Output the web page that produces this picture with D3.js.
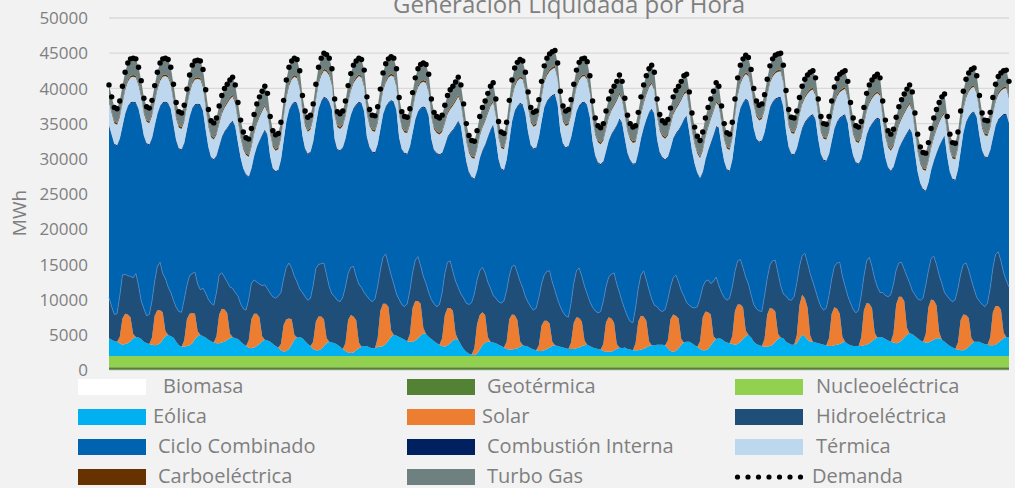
<!DOCTYPE html>
<html>
<head>
<meta charset="utf-8">
<script src="https://cdn.jsdelivr.net/npm/d3@7"></script>
<style>
html, body { margin: 0; padding: 0; background: #f2f2f2; }
svg { display: block; }
</style>
</head>
<body>
<svg id="vis"></svg>
<script>
// generacion liquidada, cada 2 horas, 28 dias (una fila por dia)
var horas = d3.range(0, 672, 2);

var demanda = [
 [40500,38800,37300,37100,38200,40300,42300,43600,44200,44300,44200,43000],
 [41100,38600,37400,37200,38300,40400,42300,43600,44200,44300,44100,43000],
 [40600,38000,36700,36500,37600,39900,41900,43300,43900,44000,43900,42700],
 [39800,37000,35400,35100,35800,37500,39000,40000,40600,41200,41600,40500],
 [38000,35500,33800,33000,32800,34300,36300,37800,38800,39600,40300,39300],
 [36000,34000,33400,33600,35200,38300,41200,43000,43900,44300,44100,42500],
 [39000,36800,35900,36200,37800,40600,43000,44300,45000,44800,44300,42800],
 [38500,36700,36400,36800,38200,40400,42100,43300,43900,44300,44100,42600],
 [38800,37000,36200,36100,37400,39900,42200,43500,44200,44500,44300,42800],
 [38700,36700,36000,35900,37100,39400,41500,42800,43400,43600,43400,42000],
 [38500,36600,36000,35800,36200,37600,39000,39800,40300,40900,41600,40500],
 [37800,35000,33300,32600,32500,34000,36000,37300,38200,39300,40300,40800],
 [38500,35300,33800,33600,35200,38300,41200,42900,43700,44100,43900,42300],
 [39500,37300,36600,36800,38400,41000,43200,44300,44900,45200,45400,43600],
 [39600,37500,36800,37000,38400,40600,42600,43700,44200,44300,43800,41800],
 [38200,35800,34700,34400,35000,36800,38500,39600,40300,41000,41900,41000],
 [38600,36200,35000,34500,34700,36600,38800,40500,41800,42800,43300,42300],
 [38500,36300,35400,35100,35600,37200,38800,39700,40300,41000,41800,42000],
 [39500,36500,34500,33200,32600,33800,35800,37300,38500,39600,40800,40300],
 [37500,35000,33700,33500,35200,38500,41500,43300,44200,44700,44400,42700],
 [40000,38200,37600,37800,39100,41300,43200,44200,44700,44900,45000,43300],
 [39700,37000,35900,35800,36800,38700,40300,41300,41900,42300,42500,41500],
 [38500,36000,35000,34900,36000,38200,40200,41400,42000,42300,42500,41000],
 [38000,35800,34700,34500,35300,37300,39300,40500,41200,41700,42000,41500],
 [38200,35500,34000,33500,34200,35900,37400,38400,39200,39900,40500,39500],
 [36500,33500,31700,30900,30800,32300,34300,35800,37000,38000,38800,39200],
 [36000,33500,32300,32200,33800,36800,39600,41300,42200,42700,42900,41800],
 [39000,36500,35500,35400,36600,38700,40600,41700,42200,42500,42600,41000]
];

var biomasa = [
 [20,20,20,20,20,20,20,20,20,20,20,20],[20,20,20,20,20,20,20,20,20,20,20,20],
 [20,20,20,20,20,20,20,20,20,20,20,20],[20,20,20,20,20,20,20,20,20,20,20,20],
 [20,20,20,20,20,20,20,20,20,20,20,20],[20,20,20,20,20,20,20,20,20,20,20,20],
 [20,20,20,20,20,20,20,20,20,20,20,20],[20,20,20,20,20,20,20,20,20,20,20,20],
 [20,20,20,20,20,20,20,20,20,20,20,20],[20,20,20,20,20,20,20,20,20,20,20,20],
 [20,20,20,20,20,20,20,20,20,20,20,20],[20,20,20,20,20,20,20,20,20,20,20,20],
 [20,20,20,20,20,20,20,20,20,20,20,20],[20,20,20,20,20,20,20,20,20,20,20,20],
 [20,20,20,20,20,20,20,20,20,20,20,20],[20,20,20,20,20,20,20,20,20,20,20,20],
 [20,20,20,20,20,20,20,20,20,20,20,20],[20,20,20,20,20,20,20,20,20,20,20,20],
 [20,20,20,20,20,20,20,20,20,20,20,20],[20,20,20,20,20,20,20,20,20,20,20,20],
 [20,20,20,20,20,20,20,20,20,20,20,20],[20,20,20,20,20,20,20,20,20,20,20,20],
 [20,20,20,20,20,20,20,20,20,20,20,20],[20,20,20,20,20,20,20,20,20,20,20,20],
 [20,20,20,20,20,20,20,20,20,20,20,20],[20,20,20,20,20,20,20,20,20,20,20,20],
 [20,20,20,20,20,20,20,20,20,20,20,20],[20,20,20,20,20,20,20,20,20,20,20,20]
];

var geotermica = [
 [380,380,380,380,380,380,380,380,380,380,380,380],[380,380,380,380,380,380,380,380,380,380,380,380],
 [380,380,380,380,380,380,380,380,380,380,380,380],[380,380,380,380,380,380,380,380,380,380,380,380],
 [380,380,380,380,380,380,380,380,380,380,380,380],[380,380,380,380,380,380,380,380,380,380,380,380],
 [380,380,380,380,380,380,380,380,380,380,380,380],[380,380,380,380,380,380,380,380,380,380,380,380],
 [380,380,380,380,380,380,380,380,380,380,380,380],[380,380,380,380,380,380,380,380,380,380,380,380],
 [380,380,380,380,380,380,380,380,380,380,380,380],[380,380,380,380,380,380,380,380,380,380,380,380],
 [380,380,380,380,380,380,380,380,380,380,380,380],[380,380,380,380,380,380,380,380,380,380,380,380],
 [380,380,380,380,380,380,380,380,380,380,380,380],[380,380,380,380,380,380,380,380,380,380,380,380],
 [380,380,380,380,380,380,380,380,380,380,380,380],[380,380,380,380,380,380,380,380,380,380,380,380],
 [380,380,380,380,380,380,380,380,380,380,380,380],[380,380,380,380,380,380,380,380,380,380,380,380],
 [380,380,380,380,380,380,380,380,380,380,380,380],[380,380,380,380,380,380,380,380,380,380,380,380],
 [380,380,380,380,380,380,380,380,380,380,380,380],[380,380,380,380,380,380,380,380,380,380,380,380],
 [380,380,380,380,380,380,380,380,380,380,380,380],[380,380,380,380,380,380,380,380,380,380,380,380],
 [380,380,380,380,380,380,380,380,380,380,380,380],[380,380,380,380,380,380,380,380,380,380,380,380]
];

var nucleo = [
 [1600,1600,1600,1600,1600,1600,1600,1600,1600,1600,1600,1600],[1600,1600,1600,1600,1600,1600,1600,1600,1600,1600,1600,1600],
 [1600,1600,1600,1600,1600,1600,1600,1600,1600,1600,1600,1600],[1600,1600,1600,1600,1600,1600,1600,1600,1600,1600,1600,1600],
 [1600,1600,1600,1600,1600,1600,1600,1600,1600,1600,1600,1600],[1600,1600,1600,1600,1600,1600,1600,1600,1600,1600,1600,1600],
 [1600,1600,1600,1600,1600,1600,1600,1600,1600,1600,1600,1600],[1600,1600,1600,1600,1600,1600,1600,1600,1600,1600,1600,1600],
 [1600,1600,1600,1600,1600,1600,1600,1600,1600,1600,1600,1600],[1600,1600,1600,1600,1600,1600,1600,1600,1600,1600,1600,1600],
 [1600,1600,1600,1600,1600,1600,1600,1600,1600,1600,1600,1600],[1600,1600,1600,1600,1600,1600,1600,1600,1600,1600,1600,1600],
 [1600,1600,1600,1600,1600,1600,1600,1600,1600,1600,1600,1600],[1600,1600,1600,1600,1600,1600,1600,1600,1600,1600,1600,1600],
 [1600,1600,1600,1600,1600,1600,1600,1600,1600,1600,1600,1600],[1600,1600,1600,1600,1600,1600,1600,1600,1600,1600,1600,1600],
 [1600,1600,1600,1600,1600,1600,1600,1600,1600,1600,1600,1600],[1600,1600,1600,1600,1600,1600,1600,1600,1600,1600,1600,1600],
 [1600,1600,1600,1600,1600,1600,1600,1600,1600,1600,1600,1600],[1600,1600,1600,1600,1600,1600,1600,1600,1600,1600,1600,1600],
 [1600,1600,1600,1600,1600,1600,1600,1600,1600,1600,1600,1600],[1600,1600,1600,1600,1600,1600,1600,1600,1600,1600,1600,1600],
 [1600,1600,1600,1600,1600,1600,1600,1600,1600,1600,1600,1600],[1600,1600,1600,1600,1600,1600,1600,1600,1600,1600,1600,1600],
 [1600,1600,1600,1600,1600,1600,1600,1600,1600,1600,1600,1600],[1600,1600,1600,1600,1600,1600,1600,1600,1600,1600,1600,1600],
 [1600,1600,1600,1600,1600,1600,1600,1600,1600,1600,1600,1600],[1600,1600,1600,1600,1600,1600,1600,1600,1600,1600,1600,1600]
];

var eolica = [
 [2500,2300,2100,2000,1800,1600,1700,1800,2100,2500,2700,2600],
 [2400,2000,1800,1700,1600,1500,1600,1800,2300,2800,3000,2800],
 [2600,2000,1500,1300,1300,1400,1500,1800,2400,2800,3000,2800],
 [2600,2300,2100,1900,1800,1800,1900,2000,2300,2500,2700,2500],
 [2400,2000,1700,1400,1200,1100,1200,1400,1700,2100,2300,2200],
 [2000,1700,1400,1200,800,600,700,1000,1600,2300,2600,2700],
 [2500,2100,1700,1400,1000,800,800,1000,1400,1800,2000,1900],
 [1800,1600,1300,1000,700,500,400,500,800,1100,1300,1400],
 [1400,1200,1100,1100,1300,1300,1400,1700,2200,2700,3000,2900],
 [2700,2500,2300,2100,2000,2000,2200,2500,2900,3200,3100,2700],
 [2400,2100,1800,1600,1400,1300,1500,1800,2200,2400,2300,1600],
 [1000,600,300,200,100,300,900,1500,1900,2000,2000,1900],
 [1800,1600,1400,1200,1000,900,900,1000,1100,1300,1500,1400],
 [1300,1100,900,800,700,700,800,1000,1200,1400,1500,1400],
 [1300,1200,1100,1000,1000,1000,1100,1200,1400,1500,1600,1400],
 [1200,1100,1000,900,700,600,600,600,800,1000,1200,1100],
 [1200,1000,900,800,800,800,900,1000,1200,1400,1500,1500],
 [1600,1600,1600,1500,1100,700,600,700,1100,1600,1900,2000],
 [2000,1800,1500,1300,1000,800,800,1000,1500,2000,2400,2500],
 [2400,2100,1900,1800,1700,1600,1700,2000,2400,2800,3000,2600],
 [2000,1700,1500,1400,1300,1300,1400,1600,2000,2400,2600,2500],
 [2000,1800,1600,1600,1800,2400,3000,2800,2300,2000,2000,1900],
 [1800,1700,1600,1500,1400,1400,1500,1600,1700,1900,2000,1700],
 [1500,1400,1400,1400,1400,1500,1600,1800,2100,2400,2600,2700],
 [2600,2400,2200,2000,1900,1800,1900,2200,2600,3000,3200,3100],
 [2800,2500,2200,2000,1900,1900,2100,2300,2500,2500,2300,2000],
 [1700,1400,1200,1000,900,800,800,1000,1300,1700,2000,2000],
 [2000,1800,1700,1600,1500,1500,1600,1900,2200,2500,2700,2700]
];

var solar = [
 [0,0,0,0,900,3700,4300,4100,3400,600,0,0],
 [0,0,0,0,1000,4200,4900,4700,3900,700,0,0],
 [0,0,0,0,900,3800,4500,4300,3600,700,0,0],
 [0,0,0,0,1000,4100,4800,4600,3800,700,0,0],
 [0,0,0,0,1000,4100,4800,4600,3800,700,0,0],
 [0,0,0,0,900,3800,4500,4300,3600,700,0,0],
 [0,0,0,0,1000,4100,4800,4600,3800,700,0,0],
 [0,0,0,0,1100,4600,5400,5100,4300,800,0,0],
 [0,0,0,0,1200,5100,6000,5700,4800,900,0,0],
 [0,0,0,0,1100,4800,5600,5300,4500,800,0,0],
 [0,0,0,0,1100,4500,5300,5000,4200,800,0,0],
 [0,0,0,0,1000,4200,4900,4700,3900,700,0,0],
 [0,0,0,0,1000,4300,5000,4800,4000,800,0,0],
 [0,0,0,0,800,3600,4200,4000,3400,600,0,0],
 [0,0,0,0,900,3700,4400,4200,3500,700,0,0],
 [0,0,0,0,1000,4200,4900,4700,3900,700,0,0],
 [0,0,0,0,1000,4100,4800,4600,3800,700,0,0],
 [0,0,0,0,1100,4500,5300,5000,4200,800,0,0],
 [0,0,0,0,1100,4700,5500,5200,4400,800,0,0],
 [0,0,0,0,1100,4800,5600,5300,4500,800,0,0],
 [0,0,0,0,1100,4600,5400,5100,4300,800,0,0],
 [0,0,0,0,1100,4800,5700,5400,4600,900,0,0],
 [0,0,0,0,1100,4600,5400,5100,4300,800,0,0],
 [0,0,0,0,1200,5000,5900,5600,4700,900,0,0],
 [0,0,0,0,1300,5500,6500,6200,5200,1000,0,0],
 [0,0,0,0,1200,5000,5900,5600,4700,900,0,0],
 [0,0,0,0,1000,4300,5100,4800,4100,800,0,0],
 [0,0,0,0,1100,4700,5500,5200,4400,800,0,0]
];

var hidro = [
 [5800,4700,3800,4000,5800,6200,5600,5500,5800,8000,9000,7400],
 [5400,4700,3900,4200,5200,4900,6200,6800,5500,7500,6800,6200],
 [5300,4900,4800,4900,5800,4800,5400,5600,5900,6700,6400,6800],
 [6300,5700,5400,5300,6200,5600,5100,4600,4400,6600,6900,6500],
 [6100,5400,5000,5100,5800,5100,4800,4500,4700,7200,7800,7300],
 [6900,6700,6800,7300,7300,6600,7400,7900,7300,8300,7900,6800],
 [6500,6300,6200,6800,8000,7500,7400,7500,8000,9000,7800,6900],
 [6600,6300,6400,7300,8000,6600,6800,7100,6200,8300,8400,7600],
 [7100,6800,6600,7000,7400,5800,6600,7100,6000,7900,7200,5900],
 [5300,4800,4700,5300,6200,5000,5800,6300,5400,7300,7200,6300],
 [5600,5300,5200,5700,6500,5900,6500,6700,5600,7400,7400,7200],
 [7200,6900,7000,7400,7700,6300,6300,6400,6000,7800,7600,6700],
 [6400,6100,6100,6600,7300,6200,6800,7100,6700,8500,8200,7000],
 [6300,5900,5600,6000,6800,5900,6500,7000,7500,8500,7800,6600],
 [5700,5000,4600,4500,5600,5600,6600,7100,6400,7700,7200,6300],
 [5700,5300,5100,5400,6100,5000,5700,6300,7100,8500,7800,6600],
 [5400,4600,4000,3900,5000,4700,5800,6500,5800,7300,6600,5700],
 [5400,4900,4700,5100,5800,4600,5200,5800,5200,6900,6600,5600],
 [5200,5100,5300,5700,6100,4300,4300,4600,4400,7800,8800,7500],
 [6600,6200,6000,6400,7000,5600,6200,6400,5600,7600,7200,6100],
 [5300,5000,4900,4900,6100,5100,6100,6800,7300,8600,7400,6300],
 [6500,6200,6300,6800,7400,5500,5500,6400,6300,8800,8500,7400],
 [6200,5300,4900,5300,6100,4900,5800,6500,7300,8600,7900,6800],
 [6000,5200,4700,5100,6000,4800,6000,6600,5900,7700,7200,6300],
 [6400,6200,6200,6700,7000,4900,4800,4900,4500,7300,7200,6200],
 [5900,5600,5700,6200,6900,5200,5800,6300,5800,8100,8000,7000],
 [6800,6600,6500,7000,7700,6500,7100,7400,6800,8300,7500,6300],
 [5800,5500,5300,5900,7000,6300,7300,7700,6900,8500,8000,7100]
];

var ciclo = [
 [24400,24350,24100,23800,22250,21000,22700,24000,24600,24900,24200,25000],
 [25500,24450,24400,24000,23050,22000,21600,22100,24200,25000,26000,26000],
 [24900,23650,23100,23000,22150,22100,22500,23400,23700,25500,26200,25100],
 [23100,21550,20600,20600,19350,18200,19200,20600,21800,23100,23700,23500],
 [21700,20650,19800,19200,17350,16200,17500,19100,20300,21300,21900,21800],
 [19300,18150,17900,17800,18750,19500,20600,21600,23100,24700,25300,25000],
 [22200,20950,20700,20700,20350,20400,22000,23000,23500,25000,26200,26000],
 [22300,21350,21400,21200,20950,20900,21500,22400,24300,25800,26100,25600],
 [22500,21550,21200,20700,20050,19900,20200,20800,22900,24700,25800,26000],
 [22900,21950,21700,21200,20350,19800,19900,20500,22300,24000,24800,25000],
 [22700,21750,21700,21200,19750,18100,17700,18100,20000,22000,23600,23700],
 [21800,20050,18700,17700,16250,15400,15900,16500,18100,20500,22400,24200],
 [22500,20150,19000,18500,18450,19100,20500,21800,23600,25200,25900,25900],
 [24100,22850,22800,22700,22650,23000,23700,24100,24500,26400,27800,27600],
 [24800,23850,23800,24200,23450,22500,22500,23000,24600,26100,26700,26100],
 [23500,21950,21300,20800,19750,19200,19300,19800,20200,22500,24600,25300],
 [24200,23150,22800,22500,20450,19200,19300,20200,22700,25100,26900,27100],
 [23700,22350,21800,21200,20150,19600,19700,20000,21500,23400,25000,26400],
 [24500,22150,20400,18900,16950,16200,17200,18300,19900,20700,21300,22300],
 [20700,19250,18500,18000,17950,18700,20000,21400,23400,25200,25900,26000],
 [24900,24050,23900,24200,23150,22500,22300,22500,22800,24800,26700,26500],
 [23400,21550,20700,20100,19050,18200,18100,18500,20400,22300,23700,24200],
 [22700,21550,21200,20800,19950,19500,19500,20000,20400,22700,24300,24500],
 [22700,21750,21300,20700,19250,18200,17800,18300,20200,22400,23900,24500],
 [21400,19450,18300,17500,16550,15900,16200,16900,18600,20300,21800,22200],
 [20000,17950,16500,15400,13350,12400,12500,13400,15700,18200,20200,22200],
 [19700,18050,17300,16900,16750,17400,18600,19900,21700,23600,25100,25500],
 [23400,21750,21200,20600,19550,18400,18200,18700,20400,22400,23600,23200]
];

var combInterna = [
 [150,150,150,150,150,150,150,150,150,150,150,150],[150,150,150,150,150,150,150,150,150,150,150,150],
 [150,150,150,150,150,150,150,150,150,150,150,150],[150,150,150,150,150,150,150,150,150,150,150,150],
 [150,150,150,150,150,150,150,150,150,150,150,150],[150,150,150,150,150,150,150,150,150,150,150,150],
 [150,150,150,150,150,150,150,150,150,150,150,150],[150,150,150,150,150,150,150,150,150,150,150,150],
 [150,150,150,150,150,150,150,150,150,150,150,150],[150,150,150,150,150,150,150,150,150,150,150,150],
 [150,150,150,150,150,150,150,150,150,150,150,150],[150,150,150,150,150,150,150,150,150,150,150,150],
 [150,150,150,150,150,150,150,150,150,150,150,150],[150,150,150,150,150,150,150,150,150,150,150,150],
 [150,150,150,150,150,150,150,150,150,150,150,150],[150,150,150,150,150,150,150,150,150,150,150,150],
 [150,150,150,150,150,150,150,150,150,150,150,150],[150,150,150,150,150,150,150,150,150,150,150,150],
 [150,150,150,150,150,150,150,150,150,150,150,150],[150,150,150,150,150,150,150,150,150,150,150,150],
 [150,150,150,150,150,150,150,150,150,150,150,150],[150,150,150,150,150,150,150,150,150,150,150,150],
 [150,150,150,150,150,150,150,150,150,150,150,150],[150,150,150,150,150,150,150,150,150,150,150,150],
 [150,150,150,150,150,150,150,150,150,150,150,150],[150,150,150,150,150,150,150,150,150,150,150,150],
 [150,150,150,150,150,150,150,150,150,150,150,150],[150,150,150,150,150,150,150,150,150,150,150,150]
];

var termica = [
 [3200,3000,2900,2900,3000,3200,3300,3400,3500,3500,3500,3300],
 [3300,3100,3000,3000,3100,3300,3400,3500,3600,3600,3600,3400],
 [3200,3000,2900,2900,3000,3200,3300,3400,3500,3500,3500,3300],
 [3100,2900,2800,2800,2900,3100,3200,3300,3400,3400,3400,3200],
 [3000,2800,2700,2700,2800,3000,3100,3200,3300,3300,3300,3100],
 [3200,3000,2900,2900,3000,3200,3300,3400,3500,3500,3500,3300],
 [3400,3200,3100,3100,3200,3400,3500,3600,3700,3700,3700,3500],
 [3300,3100,3000,3000,3100,3300,3400,3500,3600,3600,3600,3400],
 [3200,3000,2900,2900,3000,3200,3300,3400,3500,3500,3500,3300],
 [3200,3000,2900,2900,3000,3200,3300,3400,3500,3500,3500,3300],
 [3100,2900,2800,2800,2900,3100,3200,3300,3400,3400,3400,3200],
 [3000,2800,2700,2700,2800,3000,3100,3200,3300,3300,3300,3100],
 [3200,3000,2900,2900,3000,3200,3300,3400,3500,3500,3500,3300],
 [3400,3200,3100,3100,3200,3400,3500,3600,3700,3700,3700,3500],
 [3300,3100,3000,3000,3100,3300,3400,3500,3600,3600,3600,3400],
 [3100,2900,2800,2800,2900,3100,3200,3300,3400,3400,3400,3200],
 [3200,3000,2900,2900,3000,3200,3300,3400,3500,3500,3500,3300],
 [3200,3000,2900,2900,3000,3200,3300,3400,3500,3500,3500,3300],
 [3000,2800,2700,2700,2800,3000,3100,3200,3300,3300,3300,3100],
 [3200,3000,2900,2900,3000,3200,3300,3400,3500,3500,3500,3300],
 [3300,3100,3000,3000,3100,3300,3400,3500,3600,3600,3600,3400],
 [3200,3000,2900,2900,3000,3200,3300,3400,3500,3500,3500,3300],
 [3300,3100,3000,3000,3100,3300,3400,3500,3600,3600,3600,3400],
 [3200,3000,2900,2900,3000,3200,3300,3400,3500,3500,3500,3300],
 [3100,2900,2800,2800,2900,3100,3200,3300,3400,3400,3400,3200],
 [3000,2800,2700,2700,2800,3000,3100,3200,3300,3300,3300,3100],
 [3200,3000,2900,2900,3000,3200,3300,3400,3500,3500,3500,3300],
 [3300,3100,3000,3000,3100,3300,3400,3500,3600,3600,3600,3400]
];

var carbo = [
 [250,250,250,250,250,250,250,250,250,250,250,250],[260,250,250,240,250,260,260,270,260,260,250,250],
 [250,250,250,250,250,250,250,250,250,250,250,250],[240,240,240,240,240,250,250,250,250,250,250,250],
 [250,250,250,250,250,250,250,250,250,250,250,250],[250,250,250,250,250,260,260,260,260,260,250,250],
 [250,250,250,250,250,250,250,250,250,250,250,250],[250,250,250,250,250,250,260,260,260,250,250,250],
 [250,250,250,250,250,250,250,250,250,250,250,250],[250,240,240,240,250,250,250,250,250,250,250,250],
 [250,250,250,250,250,250,250,250,250,250,250,250],[250,250,250,250,250,250,250,250,250,250,250,250],
 [250,250,250,250,250,260,260,260,260,250,250,250],[250,250,250,250,250,250,250,250,250,250,250,250],
 [250,250,250,250,250,250,250,250,250,250,250,250],[250,250,250,250,250,250,250,250,250,250,250,250],
 [250,250,250,250,250,250,250,250,250,250,250,250],[250,250,250,250,250,250,250,250,250,250,250,250],
 [250,250,250,250,250,250,250,250,250,250,250,250],[250,250,250,250,250,260,260,260,260,250,250,250],
 [250,250,250,250,250,250,250,250,250,250,250,250],[250,250,250,250,250,250,250,250,250,250,250,250],
 [250,250,250,250,250,250,250,250,250,250,250,250],[250,250,250,250,250,250,250,250,250,250,250,250],
 [250,250,250,250,250,250,250,250,250,250,250,250],[240,240,240,240,240,240,250,250,250,250,250,250],
 [250,250,250,250,250,250,250,250,250,250,250,250],[250,250,250,250,250,250,250,250,250,250,250,250]
];

var turbogas = [
 [2200,2050,2000,2000,2050,2200,2300,2400,2400,2400,2400,2300],
 [2100,1950,1900,1900,1950,2100,2200,2300,2300,2300,2300,2200],
 [2200,2050,2000,2000,2050,2200,2300,2400,2400,2400,2400,2300],
 [2300,2150,2100,2100,2150,2300,2400,2500,2500,2500,2500,2400],
 [2400,2250,2200,2200,2250,2400,2500,2600,2600,2600,2600,2500],
 [2200,2050,2000,2000,2050,2200,2300,2400,2400,2400,2400,2300],
 [2000,1850,1800,1800,1850,2000,2100,2200,2200,2200,2200,2100],
 [2100,1950,1900,1900,1950,2100,2200,2300,2300,2300,2300,2200],
 [2200,2050,2000,2000,2050,2200,2300,2400,2400,2400,2400,2300],
 [2200,2050,2000,2000,2050,2200,2300,2400,2400,2400,2400,2300],
 [2300,2150,2100,2100,2150,2300,2400,2500,2500,2500,2500,2400],
 [2400,2250,2200,2200,2250,2400,2500,2600,2600,2600,2600,2500],
 [2200,2050,2000,2000,2050,2200,2300,2400,2400,2400,2400,2300],
 [2000,1850,1800,1800,1850,2000,2100,2200,2200,2200,2200,2100],
 [2100,1950,1900,1900,1950,2100,2200,2300,2300,2300,2300,2200],
 [2300,2150,2100,2100,2150,2300,2400,2500,2500,2500,2500,2400],
 [2200,2050,2000,2000,2050,2200,2300,2400,2400,2400,2400,2300],
 [2200,2050,2000,2000,2050,2200,2300,2400,2400,2400,2400,2300],
 [2400,2250,2200,2200,2250,2400,2500,2600,2600,2600,2600,2500],
 [2200,2050,2000,2000,2050,2200,2300,2400,2400,2400,2400,2300],
 [2100,1950,1900,1900,1950,2100,2200,2300,2300,2300,2300,2200],
 [2200,2050,2000,2000,2050,2200,2300,2400,2400,2400,2400,2300],
 [2100,1950,1900,1900,1950,2100,2200,2300,2300,2300,2300,2200],
 [2200,2050,2000,2000,2050,2200,2300,2400,2400,2400,2400,2300],
 [2300,2150,2100,2100,2150,2300,2400,2500,2500,2500,2500,2400],
 [2400,2250,2200,2200,2250,2400,2500,2600,2600,2600,2600,2500],
 [2200,2050,2000,2000,2050,2200,2300,2400,2400,2400,2400,2300],
 [2100,1950,1900,1900,1950,2100,2200,2300,2300,2300,2300,2200]
];

var yTicks = [0, 5000, 10000, 15000, 20000, 25000, 30000, 35000, 40000, 45000, 50000];

var tecnologias = ["Biomasa", "Geotérmica", "Nucleoeléctrica", "Eólica", "Solar", "Hidroeléctrica",
    "Ciclo Combinado", "Combustión Interna", "Térmica", "Carboeléctrica", "Turbo Gas"];
var series = [biomasa, geotermica, nucleo, eolica, solar, hidro, ciclo, combInterna, termica, carbo, turbogas];
var colores = ["#ffffff", "#548235", "#92d050", "#00b0f0", "#ed7d31", "#1f4e79",
    "#0063b0", "#002060", "#bdd7ee", "#663300", "#6f8080"];

const WIDTH = 1015;
const HEIGHT = 488;
const LEFT = 109;
const RIGHT = 1009;
const TOP = 18;
const BOTTOM = 370;
const GRIS = "#7f7f7f";
const FUENTE = "'Open Sans', sans-serif";

window.onload = function() {
    setupVis();
};

function setupVis() {
    var dem = demanda.flat();
    var flat = series.map(function(s) { return s.flat(); });

    // tabla para d3.stack
    var tabla = horas.map(function(h, i) {
        var fila = { hora: h };
        tecnologias.forEach(function(t, k) { fila[t] = flat[k][i]; });
        return fila;
    });
    var apilado = d3.stack().keys(tecnologias)(tabla);

    let xScale = d3.scaleLinear()
        .domain([0, d3.max(horas)])
        .range([LEFT, RIGHT]);

    let yScale = d3.scaleLinear()
        .domain([0, 50000])
        .range([BOTTOM, TOP]);

    let svg = d3.select("#vis")
        .attr("width", WIDTH)
        .attr("height", HEIGHT);

    svg.append("rect")
        .attr("width", WIDTH)
        .attr("height", HEIGHT)
        .attr("fill", "#f2f2f2");

    // lineas de la cuadricula
    svg.selectAll("line.grid")
        .data(yTicks)
        .enter()
        .append("line")
        .attr("class", "grid")
        .attr("x1", LEFT)
        .attr("x2", RIGHT)
        .attr("y1", function(d) { return yScale(d); })
        .attr("y2", function(d) { return yScale(d); })
        .attr("stroke", "#d9d9d9")
        .attr("stroke-width", 1.3);

    // etiquetas eje y
    svg.selectAll("text.ytick")
        .data(yTicks)
        .enter()
        .append("text")
        .attr("class", "ytick")
        .text(function(d) { return d; })
        .attr("x", 88)
        .attr("y", function(d) { return yScale(d); })
        .attr("dy", "0.36em")
        .attr("font-family", FUENTE)
        .attr("font-size", "17px")
        .attr("fill", GRIS)
        .style("text-anchor", "end");

    svg.append("text")
        .text("MWh")
        .attr("transform", "translate(26,213) rotate(-90)")
        .attr("font-family", FUENTE)
        .attr("font-size", "19px")
        .attr("fill", GRIS)
        .style("text-anchor", "middle");

    svg.append("text")
        .text("Generación Liquidada por Hora")
        .attr("x", 569)
        .attr("y", 13)
        .attr("font-family", FUENTE)
        .attr("font-size", "24px")
        .attr("fill", GRIS)
        .style("text-anchor", "middle");

    // areas apiladas
    var area = d3.area()
        .x(function(d) { return xScale(d.data.hora); })
        .y0(function(d) { return yScale(d[0]); })
        .y1(function(d) { return yScale(d[1]); });

    svg.selectAll("path.capa")
        .data(apilado)
        .enter()
        .append("path")
        .attr("class", "capa")
        .attr("d", area)
        .attr("fill", function(d, i) { return colores[i]; })
        .attr("stroke", "none");

    // borde claro sobre hidro
    var borde = d3.line()
        .x(function(d) { return xScale(d.data.hora); })
        .y(function(d) { return yScale(d[1]); });
    svg.append("path")
        .attr("d", borde(apilado[5]))
        .attr("fill", "none")
        .attr("stroke", "#4a86c5")
        .attr("stroke-width", 0.8);

    // demanda (puntos)
    svg.selectAll("circle.dem")
        .data(dem)
        .enter()
        .append("circle")
        .attr("class", "dem")
        .attr("cx", function(d, i) { return xScale(horas[i]); })
        .attr("cy", function(d) { return yScale(d); })
        .attr("r", 2.7)
        .style("fill", "black");

    // leyenda
    var items = tecnologias.concat(["Demanda"]);
    var colX = [78, 407, 735];
    var textX = [163, 487, 816, 153, 482, 816, 158, 487, 816, 158, 487, 812];
    var rowY = [386, 416, 446, 476];

    var ley = svg.append("g");
    items.forEach(function(nombre, i) {
        var c = i % 3, r = Math.floor(i / 3);
        if (nombre === "Demanda") {
            ley.selectAll("circle.ley")
                .data(d3.range(7))
                .enter()
                .append("circle")
                .attr("class", "ley")
                .attr("cx", function(d) { return colX[c] + 2.5 + d * 10.5; })
                .attr("cy", rowY[r] + 1)
                .attr("r", 2.6)
                .style("fill", "black");
        } else {
            ley.append("rect")
                .attr("x", colX[c])
                .attr("y", rowY[r] - 7)
                .attr("width", 68)
                .attr("height", 16)
                .attr("fill", colores[i]);
        }
        ley.append("text")
            .text(nombre)
            .attr("x", textX[i])
            .attr("y", rowY[r])
            .attr("dy", "0.33em")
            .attr("font-family", FUENTE)
            .attr("font-size", "20px")
            .attr("fill", GRIS);
    });
}
</script>
</body>
</html>
